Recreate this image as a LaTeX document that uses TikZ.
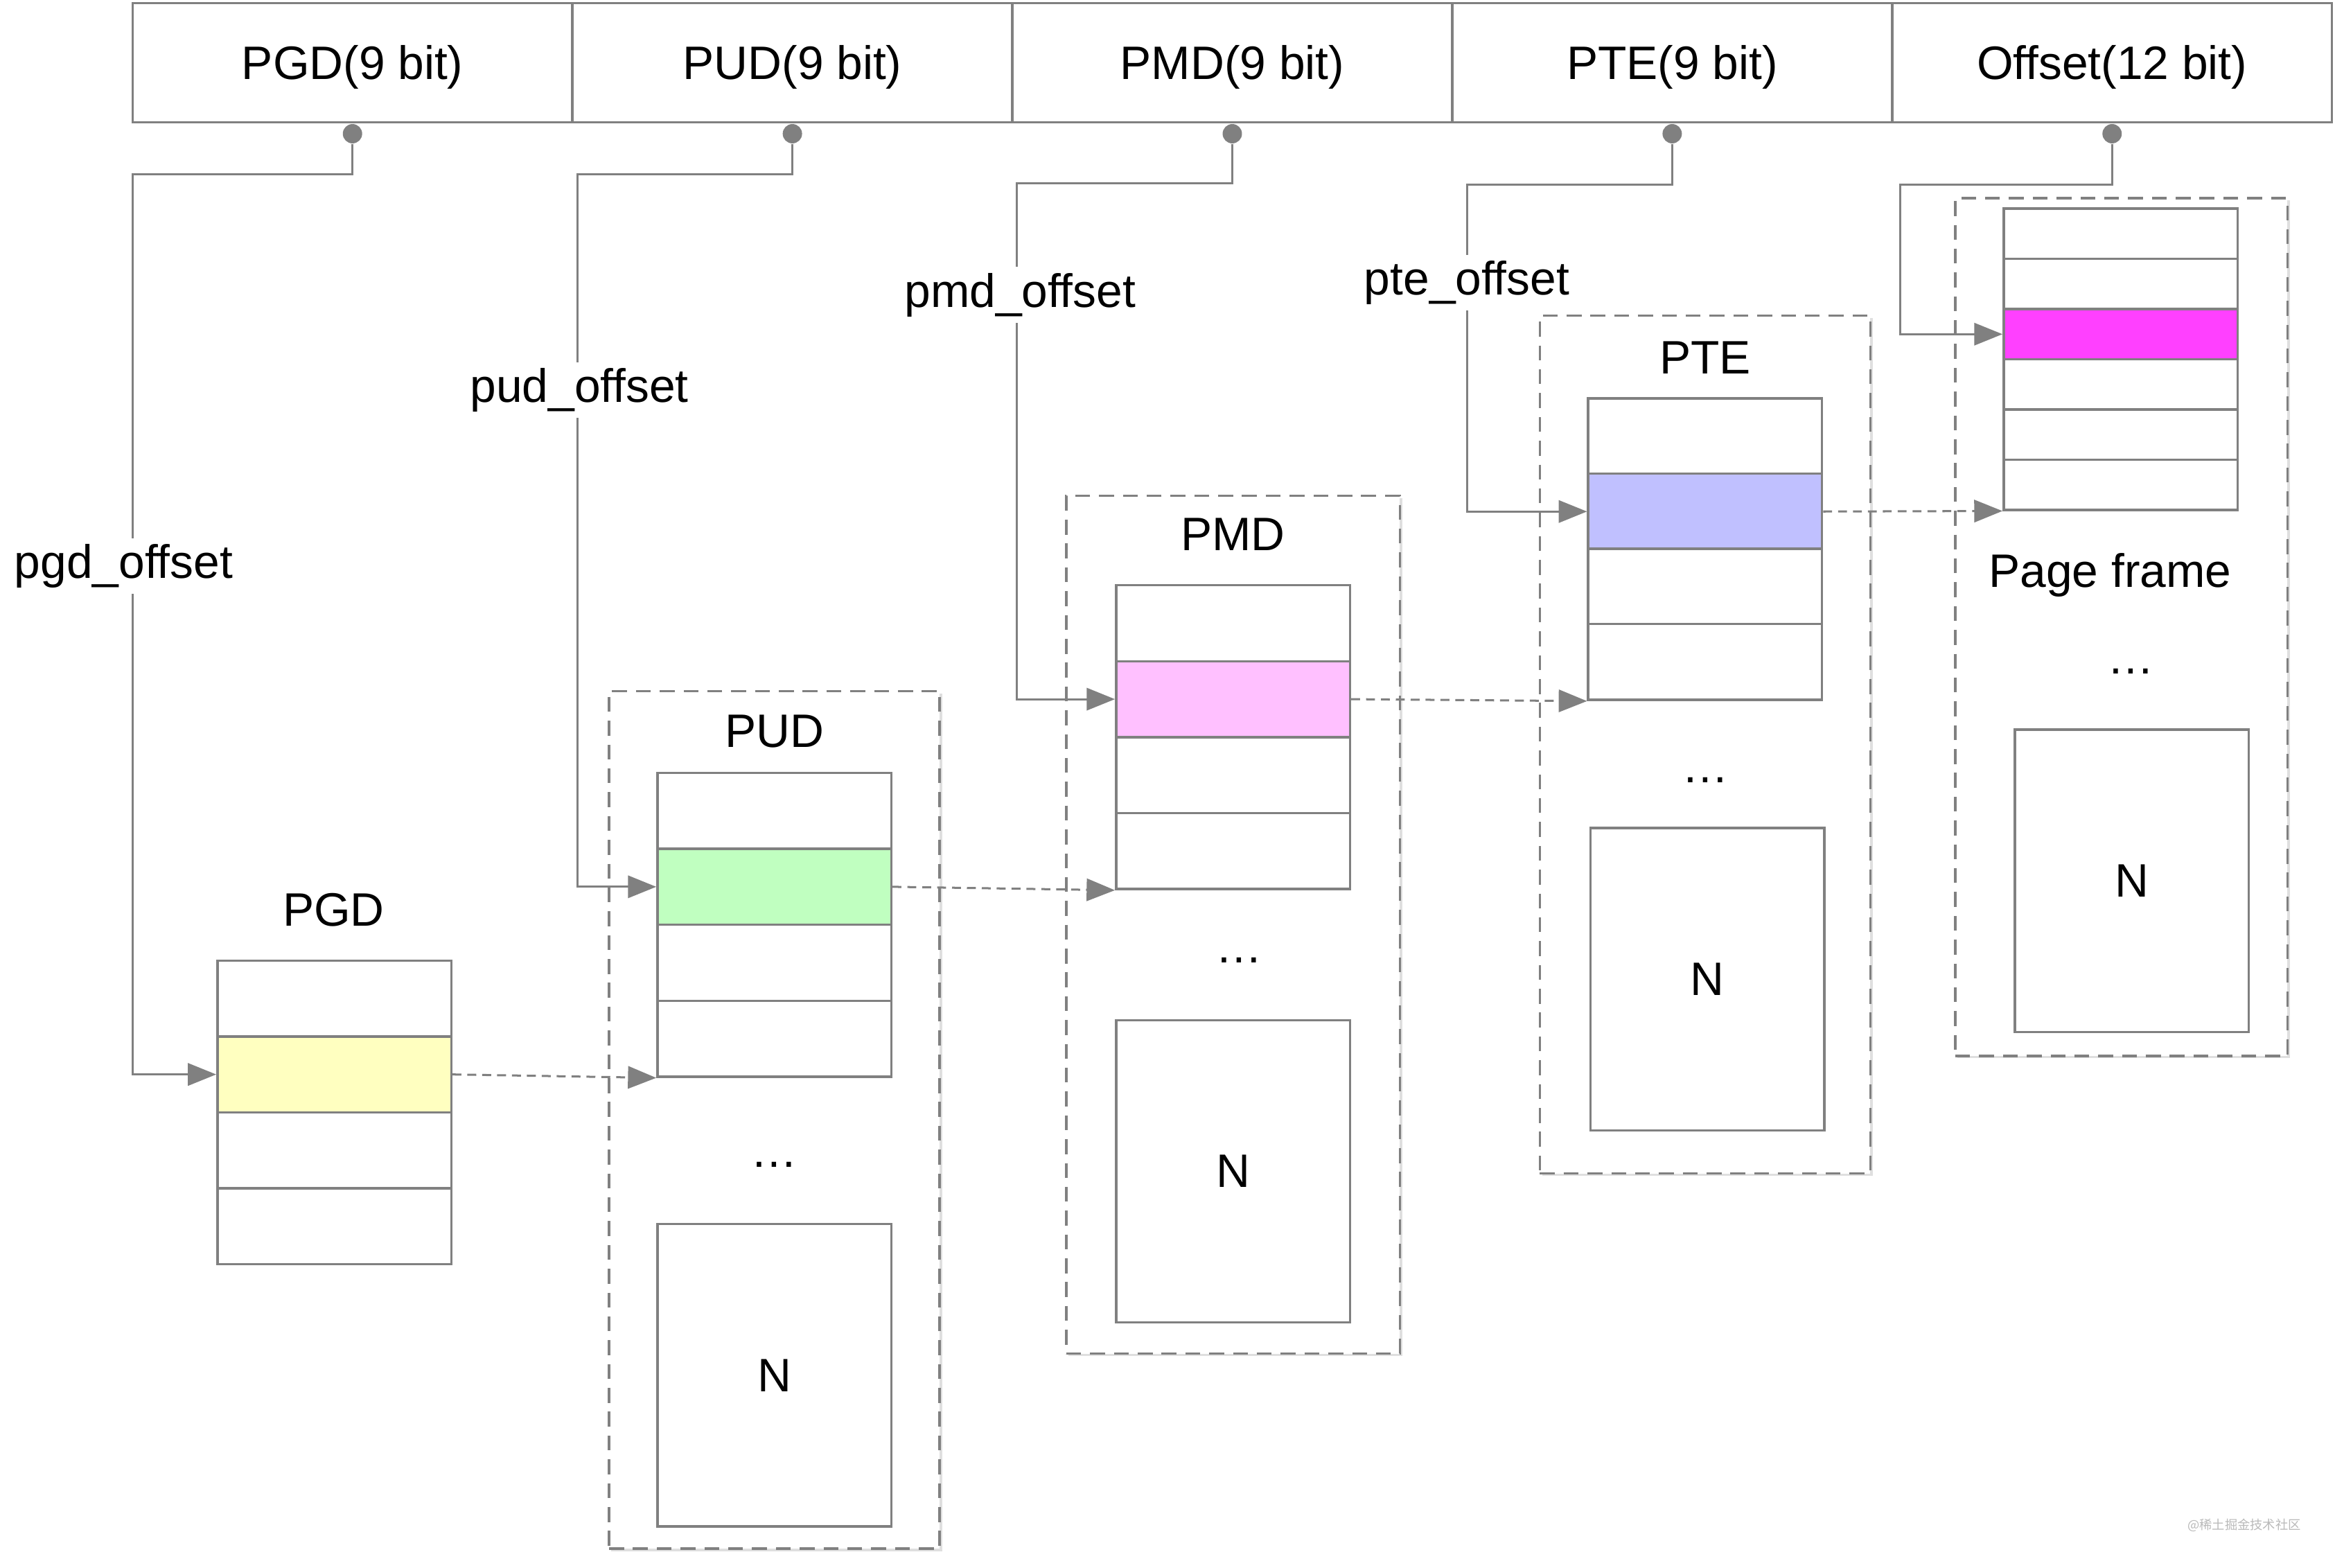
\documentclass[tikz,border=0pt]{standalone}
\usepackage{fontspec}
\setmainfont{Liberation Sans}
\newfontfamily\cjk{Noto Sans CJK SC}
\usetikzlibrary{arrows.meta,positioning,shadows}
\definecolor{linegray}{RGB}{128,128,128}
\definecolor{pgdcolor}{RGB}{255,255,192}
\definecolor{pudcolor}{RGB}{192,255,192}
\definecolor{pmdcolor}{RGB}{255,192,255}
\definecolor{ptecolor}{RGB}{192,192,255}
\definecolor{framecolor}{RGB}{255,64,255}
\pgfdeclarelayer{background}
\pgfsetlayers{background,main}

\begin{document}
\begin{tikzpicture}[
      x=0.5pt, y=-0.5pt,
      every node/.style={on grid, font=\fontsize{15.75}{19}\selectfont},
      field/.style={draw=linegray, line width=0.8pt, minimum width=147.7pt, minimum height=40pt, inner sep=0pt, text depth=0pt},
      slot/.style={draw=linegray, line width=0.8pt, fill=white, minimum width=78.5pt, minimum height=25.5pt, inner sep=0pt},
      frameslot/.style={slot, minimum height=16.85pt},
      bigslot/.style={slot, minimum height=101.5pt},
      group/.style={draw=linegray, line width=0.8pt, dash pattern=on 5pt off 3pt, fill=white, minimum width=111pt, minimum height=288pt, inner sep=0pt,
                    drop shadow={opacity=0.25, shadow xshift=0.8pt, shadow yshift=-0.8pt}},
      pin/.style={circle, fill=linegray, minimum size=6.5pt, inner sep=0pt},
      offlabel/.style={fill=white, inner sep=2pt},
      link/.style={->, draw=linegray, line width=0.7pt},
      hop/.style={link, dash pattern=on 3pt off 2pt},
      >={Triangle[length=9.5pt,width=7.5pt]}
    ]
    \useasboundingbox (0,0) rectangle (1568,1052.5);

    % the address fields
    \node[field] (pgdbit) at (236.7,42) {PGD(9 bit)};
    \node[field, right=147.7pt of pgdbit] (pudbit) {PUD(9 bit)};
    \node[field, right=147.7pt of pudbit] (pmdbit) {PMD(9 bit)};
    \node[field, right=147.7pt of pmdbit] (ptebit) {PTE(9 bit)};
    \node[field, right=147.7pt of ptebit] (offbit) {Offset(12 bit)};

    \node[pin] (pgdpin) at ([yshift=-3.5pt]pgdbit.south) {};
    \node[pin] (pudpin) at ([yshift=-3.5pt]pudbit.south) {};
    \node[pin] (pmdpin) at ([yshift=-3.5pt]pmdbit.south) {};
    \node[pin] (ptepin) at ([yshift=-3.5pt]ptebit.south) {};
    \node[pin] (offpin) at ([yshift=-3.5pt]offbit.south) {};

    % PGD
    \node (pgdtitle) at (224,611) {PGD};
    \node[slot] (pgd1) at (224.5,670.5) {};
    \node[slot, fill=pgdcolor, below=25.5pt of pgd1] (pgd2) {};
    \node[slot, below=25.5pt of pgd2] (pgd3) {};
    \node[slot, below=25.5pt of pgd3] (pgd4) {};

    % PUD
    \node (pudtitle) at (520,491) {PUD};
    \node[slot] (pud1) at (520,544.5) {};
    \node[slot, fill=pudcolor, below=25.5pt of pud1] (pud2) {};
    \node[slot, below=25.5pt of pud2] (pud3) {};
    \node[slot, below=25.5pt of pud3] (pud4) {};
    \node (puddots) at (520,782) {\ldots};
    \node[bigslot] (pudn) at (520,923.5) {N};

    % PMD
    \node (pmdtitle) at (828,359) {PMD};
    \node[slot] (pmd1) at (828,418.5) {};
    \node[slot, fill=pmdcolor, below=25.5pt of pmd1] (pmd2) {};
    \node[slot, below=25.5pt of pmd2] (pmd3) {};
    \node[slot, below=25.5pt of pmd3] (pmd4) {};
    \node (pmddots) at (832,645) {\ldots};
    \node[bigslot] (pmdn) at (828,786.5) {N};

    % PTE
    \node (ptetitle) at (1145,240) {PTE};
    \node[slot] (pte1) at (1145,293) {};
    \node[slot, fill=ptecolor, below=25.25pt of pte1] (pte2) {};
    \node[slot, below=25.25pt of pte2] (pte3) {};
    \node[slot, below=25.25pt of pte3] (pte4) {};
    \node (ptedots) at (1145,524) {\ldots};
    \node[bigslot] (pten) at (1146.5,657.5) {N};

    % page frame
    \node[frameslot] (frame1) at (1424,157) {};
    \node[frameslot, below=16.85pt of frame1] (frame2) {};
    \node[frameslot, fill=framecolor, below=16.85pt of frame2] (frame3) {};
    \node[frameslot, below=16.85pt of frame3] (frame4) {};
    \node[frameslot, below=16.85pt of frame4] (frame5) {};
    \node[frameslot, below=16.85pt of frame5] (frame6) {};
    \node (frametitle) at (1417,386) {Page frame};
    \node (framedots) at (1431,451) {\ldots};
    \node[bigslot] (framen) at (1431.5,591.5) {N};

    % the offsets
    \coordinate (pgdbend) at (89,117);
    \coordinate (pudbend) at (388,117);
    \coordinate (pmdbend) at (683,123);
    \coordinate (ptebend) at (985,124);
    \coordinate (offbend) at (1276,124);
    \draw[link] (pgdpin.south) |- (pgdbend) |- (pgd2.west);
    \draw[link] (pudpin.south) |- (pudbend) |- (pud2.west);
    \draw[link] (pmdpin.south) |- (pmdbend) |- (pmd2.west);
    \draw[link] (ptepin.south) |- (ptebend) |- (pte2.west);
    \draw[link] (offpin.south) |- (offbend) |- (frame3.west);
    \node[offlabel] (pgdlabel) at (83,380) {pgd\_offset};
    \node[offlabel] (pudlabel) at (389,262) {pud\_offset};
    \node[offlabel] (pmdlabel) at (685,198) {pmd\_offset};
    \node[offlabel] (ptelabel) at (985,190) {pte\_offset};

    % the entries pointing on
    \draw[hop] (pgd2.east) -- (pud4.south west);
    \draw[hop] (pud2.east) -- (pmd4.south west);
    \draw[hop] (pmd2.east) -- (pte4.south west);
    \draw[hop] (pte2.east) -- (frame6.south west);

    \node[text=gray!55, font=\cjk\fontsize{4.25}{5}\selectfont] (mark) at (1507,1024) {@稀土掘金技术社区};

    % the boxes around the tables
    \begin{pgfonlayer}{background}
      \node[group] (pudgroup) at (520,752) {};
      \node[group, minimum width=112pt] (pmdgroup) at (828,621) {};
      \node[group] (ptegroup) at (1145,500) {};
      \node[group, minimum width=111.5pt] (framegroup) at (1424.5,421) {};
    \end{pgfonlayer}
    \end{tikzpicture}
\end{document}
